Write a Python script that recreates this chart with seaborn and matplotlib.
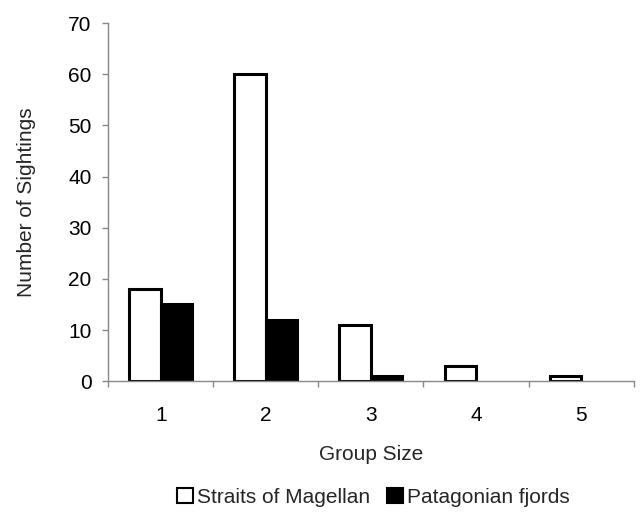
import matplotlib
matplotlib.use("Agg")
import matplotlib.pyplot as plt
import seaborn as sns
import pandas as pd
from matplotlib.patches import Patch

group_sizes = ["1", "2", "3", "4", "5"]
straits = [18, 60, 11, 3, 1]
fjords = [15, 12, 1, 0, 0]
series_names = ["Straits of Magellan", "Patagonian fjords"]

df = pd.DataFrame({
    "Group Size": group_sizes * 2,
    "Sightings": straits + fjords,
    "Region": [series_names[0]] * 5 + [series_names[1]] * 5,
})

sns.set_style("white")
plt.rcParams["font.family"] = ["Liberation Sans", "DejaVu Sans"]
FS = 15

fig = plt.figure(figsize=(6.44, 5.13), dpi=100)
ax = fig.add_axes([0.168, 0.257, 0.816, 0.698])

sns.barplot(data=df, x="Group Size", y="Sightings", hue="Region",
            palette=["white", "black"], edgecolor="black", linewidth=2.2,
            width=0.6, ax=ax, legend=False, saturation=1)

# hide zero-height bars (no visible mark in reference)
for p in ax.patches:
    if p.get_height() == 0:
        p.set_visible(False)

ax.set_xlim(-0.5, 4.5)
ax.set_ylim(0, 70)
ax.set_yticks(range(0, 71, 10))
ax.tick_params(axis="both", labelsize=FS, colors="black")
ax.tick_params(axis="y", direction="out", length=4, color="#888888", width=1, left=True, pad=8)
ax.tick_params(axis="x", which="major", length=0, pad=18)
ax.set_xticks([i + 0.5 for i in range(-1, 5)], minor=True)
ax.tick_params(axis="x", which="minor", direction="out", length=4, color="#888888", width=1, bottom=True)

for s in ["top", "right"]:
    ax.spines[s].set_visible(False)
for s in ["left", "bottom"]:
    ax.spines[s].set_color("#888888")
    ax.spines[s].set_linewidth(1)

ax.set_xlabel("Group Size", fontsize=FS, labelpad=14)
ax.set_ylabel("Number of Sightings", fontsize=FS, labelpad=23)

handles = [Patch(facecolor="white", edgecolor="black", linewidth=1.5),
           Patch(facecolor="black", edgecolor="black", linewidth=1.5)]
fig.legend(handles, series_names, loc="center", bbox_to_anchor=(0.58, 0.03),
           ncol=2, frameon=False, fontsize=FS, handlelength=0.75, handleheight=0.75,
           handletextpad=0.2, columnspacing=0.8)

fig.savefig("out.png", dpi=100)
